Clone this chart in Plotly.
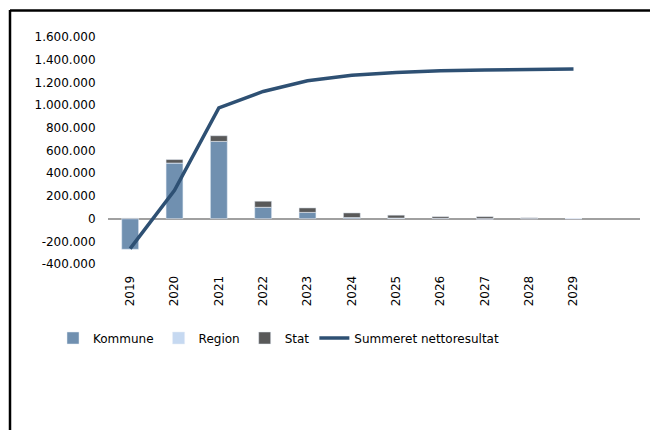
import plotly.graph_objects as go

years = ["2019", "2020", "2021", "2022", "2023", "2024", "2025", "2026", "2027", "2028", "2029", ""]
kommune = [-270000, 490000, 680000, 100000, 55000, 10000, 5000, 2000, 0, 0, 0]
region = [0, 0, 0, 0, 0, 0, 0, 0, -5000, 0, 0]
stat = [5000, 30000, 50000, 53000, 39000, 40000, 25000, 15000, 17000, 7000, 0]
summeret = [-265000, 250000, 975000, 1120000, 1215000, 1262000, 1287000, 1303000, 1310000, 1316000, 1318000]

y_ticks = [-400000, -200000, 0, 200000, 400000, 600000, 800000, 1000000, 1200000, 1400000, 1600000]
y_labels = ["{:,}".format(v).replace(",", ".") for v in y_ticks]

fig = go.Figure()

fig.add_trace(go.Bar(x=years[:11], y=kommune, name="Kommune", marker_color="#7090B0"))
fig.add_trace(go.Bar(x=years[:11], y=region, name="Region", marker_color="#C6D9F1"))
fig.add_trace(go.Bar(x=years[:11], y=stat, name="Stat", marker_color="#595959"))
fig.add_trace(go.Scatter(
    x=years[:11], y=summeret, name="Summeret nettoresultat",
    mode="lines", line=dict(color="#2E5073", width=3.5)
))

fig.update_layout(
    width=650,
    height=430,
    barmode="relative",
    bargap=0.62,
    margin=dict(l=108, r=10, t=37, b=166),
    paper_bgcolor="white",
    plot_bgcolor="white",
    font=dict(family="DejaVu Sans", size=12, color="black"),
    xaxis=dict(
        type="category",
        categoryorder="array",
        categoryarray=years,
        range=[-0.5, 11.5],
        tickangle=-90,
        ticks="outside",
        ticklen=6,
        tickcolor="rgba(0,0,0,0)",
        showgrid=False,
        showline=False,
        zeroline=False,
    ),
    yaxis=dict(
        range=[-400000, 1600000],
        tickvals=y_ticks,
        ticktext=y_labels,
        showgrid=False,
        showline=False,
        zeroline=True,
        zerolinecolor="#A0A0A0",
        zerolinewidth=1.5,
        ticks="outside",
        ticklen=9,
        tickcolor="rgba(0,0,0,0)",
    ),
    legend=dict(
        orientation="h",
        x=53 / 650,
        xref="container",
        xanchor="left",
        y=1 - 338 / 430,
        yref="container",
        yanchor="middle",
        font=dict(size=12),
        traceorder="normal",
        itemwidth=30,
    ),
    showlegend=True,
)

# document frame around the figure
fig.add_shape(type="line", xref="paper", yref="paper",
              x0=-98 / 532, x1=-98 / 532, y0=(264 - 10) / 227, y1=(264 - 440) / 227,
              line=dict(color="black", width=2.5))
fig.add_shape(type="line", xref="paper", yref="paper",
              x0=-98 / 532, x1=550 / 532, y0=(264 - 10.5) / 227, y1=(264 - 10.5) / 227,
              line=dict(color="black", width=2.5))

fig.write_html("out.html", config={"displayModeBar": False},
               post_script="document.body.style.margin='0';")
